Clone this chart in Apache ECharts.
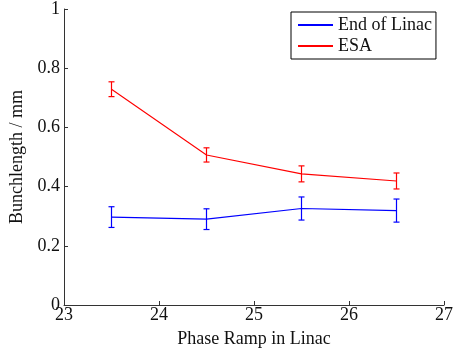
<!DOCTYPE html>
<html><head><meta charset="utf-8">
<script src="https://cdn.jsdelivr.net/npm/echarts@6/dist/echarts.min.js"></script>
<style>html,body{margin:0;padding:0;background:#fff}#c{width:456px;height:354px}</style>
</head><body><div id="c"></div>
<script>
const xValues = [23.5, 24.5, 25.5, 26.5];
const linacValues = [0.297, 0.290, 0.326, 0.319];
const linacErr = [0.035, 0.035, 0.039, 0.039];
const esaValues = [0.729, 0.507, 0.443, 0.419];
const esaErr = [0.025, 0.024, 0.027, 0.027];
const seriesNames = ['End of Linac', 'ESA'];
const xLabel = 'Phase Ramp in Linac';
const yLabel = 'Bunchlength / mm';

const font = '"Liberation Serif", "Times New Roman", serif';
function pts(v){ return xValues.map((x,i)=>[x, v[i]]); }
function errData(v,e){ return xValues.map((x,i)=>[x, v[i]-e[i], v[i]+e[i]]); }
function errSeries(v,e,color){
  return {
    type:'custom', silent:true, z:3,
    data: errData(v,e),
    renderItem:function(params, api){
      const lo = api.coord([api.value(0), api.value(1)]);
      const hi = api.coord([api.value(0), api.value(2)]);
      const w = 3;
      const st = {stroke:color, lineWidth:1.2, fill:null};
      return {type:'group', children:[
        {type:'line', shape:{x1:lo[0],y1:lo[1],x2:hi[0],y2:hi[1]}, style:st},
        {type:'line', shape:{x1:lo[0]-w,y1:lo[1],x2:lo[0]+w,y2:lo[1]}, style:st},
        {type:'line', shape:{x1:hi[0]-w,y1:hi[1],x2:hi[0]+w,y2:hi[1]}, style:st}
      ]};
    }
  };
}
const chart = echarts.init(document.getElementById('c'), null, {renderer:'canvas'});
const axisCommon = {
  axisLine:{show:true, lineStyle:{color:'#333', width:1}},
  axisTick:{show:true, inside:true, length:4, lineStyle:{color:'#333'}},
  splitLine:{show:false},
  axisLabel:{color:'#111', fontFamily:font, fontSize:18},
  nameTextStyle:{color:'#111', fontFamily:font, fontSize:18}
};
chart.setOption({
  animation:false,
  backgroundColor:'#fff',
  grid:{left:64, right:12, top:6, bottom:49, containLabel:false},
  xAxis:Object.assign({}, axisCommon, {
    type:'value', min:23, max:27, interval:1,
    name:xLabel, nameLocation:'middle', nameGap:25,
    axisLabel:Object.assign({}, axisCommon.axisLabel, {margin:1})
  }),
  yAxis:Object.assign({}, axisCommon, {
    type:'value', min:0, max:1, interval:0.2,
    name:yLabel, nameLocation:'middle', nameGap:35, nameRotate:90,
    axisLabel:Object.assign({}, axisCommon.axisLabel, {margin:4})
  }),
  legend:{
    show:true, left:291, top:12, orient:'vertical',
    itemWidth:35, itemHeight:2, itemGap:3,
    padding:[4,4,4,7],
    borderColor:'#000', borderWidth:1, backgroundColor:'#fff',
    textStyle:{fontFamily:font, fontSize:18, color:'#111'},
    icon:'rect',
    data:seriesNames
  },
  series:[
    {name:seriesNames[0], type:'line', data:pts(linacValues), showSymbol:false, symbol:'none',
     lineStyle:{color:'#0000ff', width:1.1}, itemStyle:{color:'#0000ff'}, z:2},
    {name:seriesNames[1], type:'line', data:pts(esaValues), showSymbol:false, symbol:'none',
     lineStyle:{color:'#ff0000', width:1.1}, itemStyle:{color:'#ff0000'}, z:2},
    errSeries(linacValues, linacErr, '#0000ff'),
    errSeries(esaValues, esaErr, '#ff0000')
  ]
});
</script></body></html>
